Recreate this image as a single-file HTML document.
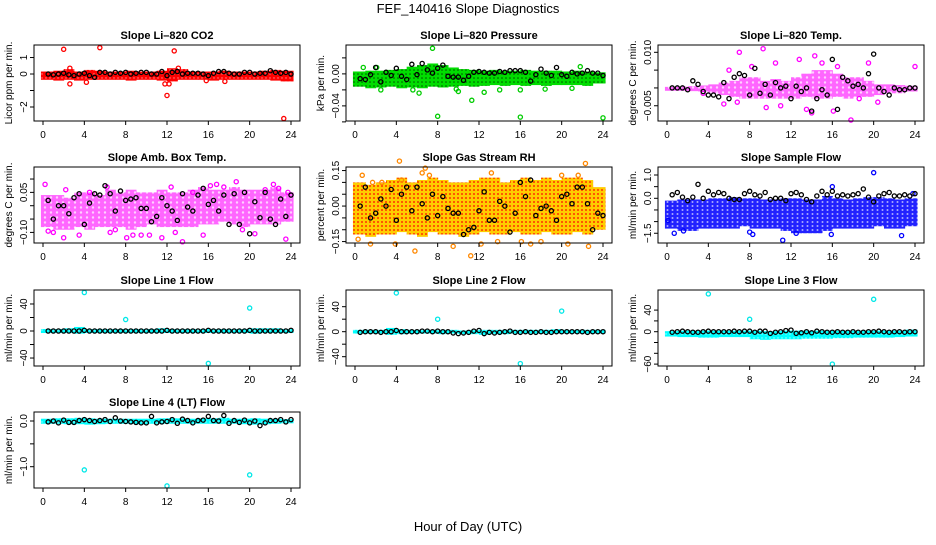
<!DOCTYPE html>
<html><head><meta charset="utf-8"><style>
body{margin:0;background:#fff;}
svg text{font-family:"Liberation Sans",Arial,sans-serif;}
</style></head><body>
<svg id="c" width="936" height="540" xmlns="http://www.w3.org/2000/svg">
<defs>
<pattern id="p-red" width="4" height="4" patternUnits="userSpaceOnUse"><rect width="4" height="4" fill="#ff0000"/><circle cx="2" cy="2" r="0.7" fill="#ff9090"/></pattern>
<pattern id="p-green" width="4" height="4" patternUnits="userSpaceOnUse"><rect width="4" height="4" fill="#00dd00"/><circle cx="2" cy="2" r="0.8" fill="#005500"/></pattern>
<pattern id="p-mag2" width="6" height="5" patternUnits="userSpaceOnUse"><rect width="6" height="5" fill="#ff66ff"/><circle cx="3" cy="2.5" r="1.2" fill="#ffd0ff"/></pattern>
<pattern id="p-orange" width="4" height="4" patternUnits="userSpaceOnUse"><rect width="4" height="4" fill="#ffcc00"/><circle cx="2" cy="2" r="1" fill="#ff3300"/></pattern>
<pattern id="p-blue" width="5" height="4" patternUnits="userSpaceOnUse"><rect width="5" height="4" fill="#2222ff"/><circle cx="2.5" cy="2" r="1" fill="#aaaaff"/></pattern>
<pattern id="p-cyan" width="4" height="4" patternUnits="userSpaceOnUse"><rect width="4" height="4" fill="#00ffff"/><circle cx="2" cy="2" r="0.7" fill="#aaffff"/></pattern>
</defs>
<text x="468" y="13" text-anchor="middle" font-size="13">FEF_140416  Slope Diagnostics</text>
<text x="468" y="531" text-anchor="middle" font-size="13">Hour of Day (UTC)</text>
</svg>
<script>
// ---------- data arrays ----------
const xTicks = [0,4,8,12,16,20,24];
const blackHours = [0.5,1,1.5,2,2.5,3,3.5,4,4.5,5,5.5,6,6.5,7,7.5,8,8.5,9,9.5,10,10.5,11,11.5,12,12.5,13,13.5,14,14.5,15,15.5,16,16.5,17,17.5,18,18.5,19,19.5,20,20.5,21,21.5,22,22.5,23,23.5,24];

// CO2
const co2Lo = [-0.35,-0.4,-0.35,-0.4,-0.35,-0.35,-0.35,-0.35,-0.4,-0.35,-0.35,-0.4,-0.45,-0.35,-0.35,-0.35,-0.4,-0.35,-0.35,-0.35,-0.35,-0.35,-0.4,-0.45];
const co2Hi = [0.15,0.2,0.3,0.15,0.25,0.2,0.15,0.15,0.2,0.15,0.15,0.2,0.35,0.3,0.15,0.15,0.15,0.2,0.15,0.15,0.15,0.2,0.25,0.2];
const co2OutX = [2.0,5.5,12.7,12.0,23.3,11.8,12.2,2.6,4.2,13.1,2.6,17.6,15.8];
const co2OutY = [1.5,1.6,1.4,-1.3,-2.7,-0.6,-0.6,-0.6,-0.5,0.35,0.35,-0.45,-0.4];
const co2Black = [0,-0.05,0,0.05,-0.05,-0.1,0,0.05,-0.1,-0.2,0.1,0.1,0,0.1,0.05,0.1,0,0.05,0.1,0.1,0,0,0.15,-0.1,0.1,0.15,0,0.05,0.05,0.05,0,-0.1,0.05,0.15,0.15,0.05,0,0,0.1,0.1,0,0.05,0.05,0.2,0.1,0.05,0.1,0];

// Pressure
const prLo = [-0.016,-0.018,-0.017,-0.016,-0.018,-0.017,-0.018,-0.016,-0.017,-0.016,-0.015,-0.016,-0.015,-0.014,-0.015,-0.014,-0.015,-0.014,-0.015,-0.014,-0.014,-0.014,-0.015,-0.012];
const prHi = [0.003,0.004,0.004,0.005,0.006,0.009,0.011,0.013,0.011,0.008,0.006,0.005,0.004,0.005,0.004,0.004,0.005,0.004,0.004,0.004,0.003,0.004,0.003,0.002];
const prOutX = [7.5,8.0,16.0,24.0,11.3,0.8,2.1,21.8,10.0,9.8,14.0,16.0,5.6,6.2,12.5,2.5,18.4,21.0];
const prOutY = [0.032,-0.053,-0.054,-0.055,-0.033,0.008,0.008,0.009,-0.022,-0.019,-0.020,-0.020,-0.020,-0.024,-0.023,-0.020,-0.019,-0.018];
const prBlack = [-0.006,-0.007,-0.001,0.008,-0.010,0.002,-0.002,0.007,-0.003,-0.007,0.012,-0.001,0.013,0.005,0.001,0.007,0.011,-0.003,-0.004,-0.004,-0.008,-0.003,0.002,0.003,0.002,0.001,0.001,0.003,0.002,0.004,0.004,0.004,0.002,-0.009,-0.001,0.006,0.001,-0.002,0.008,-0.001,-0.003,0.002,0.000,0.001,0.004,0.001,0.001,-0.002];

// Li-820 Temp
const tpLo = [-0.0008,-0.0008,-0.0009,-0.001,-0.0015,-0.002,-0.0025,-0.003,-0.003,-0.003,-0.003,-0.003,-0.003,-0.0025,-0.003,-0.003,-0.0025,-0.003,-0.0025,-0.0025,-0.002,-0.0015,-0.0015,-0.001];
const tpHi = [0.0003,0.0004,0.0005,0.0007,0.001,0.0015,0.002,0.003,0.003,0.002,0.0025,0.002,0.003,0.004,0.005,0.005,0.004,0.003,0.003,0.002,0.001,0.001,0.0008,0.0006];
const tpOutX = [7.0,9.3,17.8,14.3,19.5,24.0,15.0,6.8,11.0,13.5,5.5,10.5,8.2,16.5,20.4,12.8,14.0,6.0,18.6,3.5,9.6,16.1];
const tpOutY = [0.010,0.011,-0.009,0.009,0.007,0.006,0.007,-0.004,-0.005,-0.006,-0.0045,0.007,0.006,0.006,-0.004,0.008,-0.007,0.005,-0.003,-0.0015,-0.0055,-0.0065];
const tpBlack = [0.0,0.0,0.0,-0.0005,0.002,0.001,-0.001,-0.002,-0.002,-0.0025,0.0015,-0.003,0.003,0.004,0.0035,-0.002,0.0055,-0.0015,0.001,-0.002,0.0015,0.0,0.0005,-0.003,0.0005,-0.001,0.0,-0.0065,-0.003,-0.0005,-0.002,0.008,-0.006,0.003,0.002,0.0005,0.001,0.0,0.004,0.0095,0.0,-0.001,-0.002,0.0,-0.0005,-0.0005,0.0,0.0];

// Amb box temp
const abLo = [-0.08,-0.09,-0.09,-0.08,-0.09,-0.08,-0.08,-0.08,-0.09,-0.08,-0.07,-0.08,-0.08,-0.08,-0.08,-0.07,-0.07,-0.06,-0.07,-0.08,-0.07,-0.07,-0.07,-0.06];
const abHi = [0.04,0.04,0.03,0.05,0.05,0.04,0.06,0.05,0.06,0.05,0.05,0.06,0.05,0.05,0.06,0.07,0.06,0.06,0.07,0.06,0.06,0.06,0.07,0.05];
const abOutX = [0.2,0.5,1.0,2.0,3.5,6.2,7.0,8.1,9.5,11.5,12.8,13.5,15.5,17.5,18.7,20.5,22.3,23.5,2.2,4.5,6.5,8.7,10.3,12.4,14.5,16.8,19.3,21.5,23.7,24.0,16.2,22.8];
const abOutY = [0.08,-0.095,-0.1,-0.12,-0.11,0.07,-0.09,-0.12,-0.11,-0.12,-0.1,-0.135,-0.11,0.07,0.09,-0.105,0.08,-0.125,0.06,0.05,-0.1,-0.11,-0.11,0.07,0.05,0.08,-0.09,0.06,0.05,0.04,0.075,0.065];
const abBlack = [0.02,-0.05,0.0,0.0,-0.03,0.03,0.045,-0.07,0.01,0.045,0.04,0.075,0.045,-0.02,0.055,0.02,0.025,0.03,-0.01,-0.01,-0.06,-0.04,0.03,0.0,-0.02,-0.055,0.045,-0.005,-0.02,0.04,0.065,0.005,0.02,-0.02,0.04,-0.07,0.045,-0.07,0.05,-0.105,0.015,-0.045,0.05,-0.05,-0.07,0.025,-0.04,0.04];

// Gas stream RH
const rhLo = [-0.12,-0.13,-0.12,-0.12,-0.11,-0.12,-0.13,-0.11,-0.12,-0.12,-0.13,-0.12,-0.11,-0.12,-0.12,-0.11,-0.12,-0.12,-0.11,-0.12,-0.12,-0.11,-0.12,-0.1];
const rhHi = [0.1,0.09,0.1,0.11,0.12,0.1,0.11,0.12,0.11,0.1,0.1,0.11,0.12,0.12,0.1,0.11,0.12,0.11,0.12,0.11,0.12,0.12,0.11,0.08];
const rhOutX = [0.3,0.7,1.5,2.6,4.3,3.9,6.5,6.8,7.2,5.8,11.2,12.2,13.2,13.8,17.0,18.0,20.0,20.6,22.3,22.6,4.5,9.5,1.7,16.1,21.6];
const rhOutY = [-0.14,0.13,-0.16,0.1,0.19,-0.16,0.14,0.16,0.13,-0.19,-0.21,-0.16,0.14,-0.15,-0.16,-0.15,0.13,-0.16,0.18,-0.17,0.11,-0.17,0.1,-0.15,0.13];
const rhBlack = [0.0,0.08,-0.05,-0.03,0.03,0.0,0.07,-0.06,0.05,0.08,-0.02,0.08,0.01,-0.05,0.05,-0.04,0.04,-0.01,-0.03,-0.03,-0.12,-0.1,-0.09,-0.02,0.06,-0.06,-0.06,0.02,0.0,-0.11,-0.03,0.1,0.04,0.11,-0.04,-0.01,0.0,-0.02,-0.06,0.04,0.05,0.01,0.08,0.08,0.01,-0.1,-0.03,-0.04];

// Sample flow
const sfLo = [-1.3,-1.4,-1.4,-1.3,-1.3,-1.3,-1.3,-1.2,-1.3,-1.3,-1.3,-1.4,-1.5,-1.5,-1.5,-1.4,-1.3,-1.3,-1.3,-1.3,-1.2,-1.3,-1.3,-1.2];
const sfHi = [-0.1,-0.05,-0.05,-0.05,0.0,0.0,0.05,0.0,0.0,-0.05,-0.05,0.0,0.0,-0.05,-0.05,0.1,0.0,-0.05,0.0,0.05,0.05,0.0,-0.05,0.0];
const sfOutX = [20.0,11.2,22.7,0.7,1.6,8.0,8.3,15.9,16.0,0.1,12.5,23.8];
const sfOutY = [1.1,-1.8,-1.6,-1.5,-1.4,-1.45,-1.55,-1.55,0.5,-0.95,-1.5,0.2];
const sfBlack = [0.15,0.25,0.05,-0.1,0.05,0.6,0.0,0.3,0.15,0.25,0.2,0.0,-0.05,-0.05,0.2,0.3,0.15,0.1,0.25,-0.05,0.0,0.0,-0.1,0.2,0.25,0.15,-0.05,-0.15,0.1,0.3,0.15,0.3,0.1,0.15,0.1,0.15,0.2,0.4,0.05,-0.15,0.1,0.2,0.25,0.1,0.1,0.15,0.1,0.2];

// Line 1 flow
const l1Lo = [-3,-3,-3,-4,-3,-3,-3,-3,-3,-3,-3,-3,-3,-3,-3,-3,-3,-3,-3,-3,-4,-3,-3,-3];
const l1Hi = [3,3,4,6,3,3,3,3,3,3,3,4,3,3,3,3,3,3,3,3,4,4,4,3];
const l1OutX = [4.0,8.0,16.0,20.0];
const l1OutY = [57,17,-48,34];
const l1Black = [0,0,0,0,0,0,0,1,0,0,0,0,0,0,0,0,0,0,0,0,0,0,0,1,0,0,0,0,0,0,0,1,0,0,0,0,0,0,0,1,0,0,0,0,0,0,0,1];

// Line 2 flow
const l2Lo = [-3,-3,-3,-5,-4,-3,-3,-3,-4,-3,-4,-4,-5,-4,-4,-3,-3,-3,-3,-3,-3,-3,-3,-3];
const l2Hi = [3,3,3,6,4,3,3,3,3,3,2,3,3,3,3,3,3,3,3,4,3,3,3,3];
const l2OutX = [4.0,8.0,16.0,20.0];
const l2OutY = [62,20,-51,33];
const l2Black = [-1,0,0,0,-1,0,0,2,0,0,0,0,1,1,0,1,0,0,-2,-3,-2,-1,1,2,-3,-1,-2,-1,0,1,-1,-1,0,-1,-1,0,-1,-1,0,0,0,0,0,0,-1,0,0,0];

// Line 3 flow
const l3Lo = [-9,-10,-10,-11,-11,-10,-10,-10,-14,-15,-14,-14,-14,-13,-13,-13,-12,-12,-11,-11,-11,-11,-10,-9];
const l3Hi = [1,2,2,2,2,2,2,2,2,1,1,2,2,2,2,2,2,2,2,2,2,2,2,4];
const l3OutX = [4.0,8.0,16.0,20.0];
const l3OutY = [70,23,-60,60];
const l3Black = [-1,0,1,0,-1,-1,0,1,0,0,0,0,1,0,1,1,-1,1,1,-3,-1,0,2,3,-3,-2,0,-2,1,0,-1,-1,0,-1,-1,0,-1,-1,0,0,1,0,-1,0,0,-1,0,0];

// Line 4 (LT) flow
const l4Lo = [-0.06,-0.06,-0.07,-0.07,-0.08,-0.07,-0.06,-0.06,-0.06,-0.07,-0.06,-0.06,-0.06,-0.06,-0.06,-0.06,-0.06,-0.06,-0.06,-0.07,-0.08,-0.07,-0.06,-0.05];
const l4Hi = [0.05,0.06,0.06,0.07,0.06,0.05,0.05,0.05,0.05,0.05,0.05,0.06,0.06,0.06,0.05,0.06,0.06,0.07,0.05,0.05,0.06,0.05,0.05,0.04];
const l4OutX = [4.0,12.0,20.0];
const l4OutY = [-1.07,-1.42,-1.18];
const l4Black = [-0.02,0.0,-0.04,0.02,-0.03,-0.03,0.01,0.03,0.01,-0.01,0.01,0.03,-0.01,0.07,0.0,-0.01,-0.02,-0.03,-0.04,-0.04,0.1,-0.04,-0.02,-0.01,0.03,-0.05,0.04,0.01,-0.04,0.01,0.02,0.1,0.01,0.0,0.12,-0.05,0.01,-0.03,0.02,-0.04,0.0,-0.1,-0.04,0.01,0.01,0.03,-0.02,0.03];

// ---------- panel configuration (layout only) ----------
const panels = [
 {name:'co2',title:'Slope Li\u2013820 CO2',ylab:'Licor ppm per min.',col:0,row:0,dom:[-2.85,1.76],ticks:[1,0,-1,-2],labels:['1','0','','\u22122'],lo:co2Lo,hi:co2Hi,ox:co2OutX,oy:co2OutY,blk:co2Black,fill:'url(#p-red)',pc:'#ff0000'},
 {name:'pressure',title:'Slope Li\u2013820 Pressure',ylab:'kPa per min.',col:1,row:0,dom:[-0.0589,0.0361],ticks:[0.02,0,-0.02,-0.04,-0.06],labels:['','0.00','','\u22120.04',''],lo:prLo,hi:prHi,ox:prOutX,oy:prOutY,blk:prBlack,fill:'url(#p-green)',pc:'#00cc00'},
 {name:'temp',title:'Slope Li\u2013820 Temp.',ylab:'degrees C per min.',col:2,row:0,dom:[-0.00928,0.01205],ticks:[0.01,0.005,0,-0.005],labels:['0.010','','','\u22120.005'],lo:tpLo,hi:tpHi,ox:tpOutX,oy:tpOutY,blk:tpBlack,fill:'url(#p-mag2)',pc:'#ff00ff'},
 {name:'amb-box-temp',title:'Slope Amb. Box Temp.',ylab:'degrees C per min.',col:0,row:1,dom:[-0.1397,0.1451],ticks:[0.1,0.05,0,-0.05,-0.1],labels:['','0.05','','','\u22120.10'],lo:abLo,hi:abHi,ox:abOutX,oy:abOutY,blk:abBlack,fill:'url(#p-mag2)',pc:'#ff00ff'},
 {name:'gas-rh',title:'Slope Gas Stream RH',ylab:'percent per min.',col:1,row:1,dom:[-0.156,0.165],ticks:[0.15,0.1,0.05,0,-0.05,-0.1,-0.15],labels:['0.15','','','0.00','','','\u22120.15'],lo:rhLo,hi:rhHi,ox:rhOutX,oy:rhOutY,blk:rhBlack,fill:'url(#p-orange)',pc:'#ff8800'},
 {name:'sample-flow',title:'Slope Sample Flow',ylab:'ml/min per min.',col:2,row:1,dom:[-1.918,1.343],ticks:[1,0.5,0,-0.5,-1,-1.5],labels:['1.0','','0.0','','','\u22121.5'],lo:sfLo,hi:sfHi,ox:sfOutX,oy:sfOutY,blk:sfBlack,fill:'url(#p-blue)',pc:'#0000ff'},
 {name:'line1-flow',title:'Slope Line 1 Flow',ylab:'ml/min per min.',col:0,row:2,dom:[-51.8,60.7],ticks:[40,20,0,-20,-40],labels:['40','','0','','\u221240'],lo:l1Lo,hi:l1Hi,ox:l1OutX,oy:l1OutY,blk:l1Black,fill:'url(#p-cyan)',pc:'#00e8e8'},
 {name:'line2-flow',title:'Slope Line 2 Flow',ylab:'ml/min per min.',col:1,row:2,dom:[-54.9,66.7],ticks:[40,20,0,-20,-40],labels:['40','','0','','\u221240'],lo:l2Lo,hi:l2Hi,ox:l2OutX,oy:l2OutY,blk:l2Black,fill:'url(#p-cyan)',pc:'#00e8e8'},
 {name:'line3-flow',title:'Slope Line 3 Flow',ylab:'ml/min per min.',col:2,row:2,dom:[-63.5,77.2],ticks:[40,20,0,-20,-40,-60],labels:['40','','0','','','\u221260'],lo:l3Lo,hi:l3Hi,ox:l3OutX,oy:l3OutY,blk:l3Black,fill:'url(#p-cyan)',pc:'#00e8e8'},
 {name:'line4-flow',title:'Slope Line 4 (LT) Flow',ylab:'ml/min per min.',col:0,row:3,dom:[-1.466,0.197],ticks:[0,-0.5,-1],labels:['0.0','','\u22121.0'],lo:l4Lo,hi:l4Hi,ox:l4OutX,oy:l4OutY,blk:l4Black,fill:'url(#p-cyan)',pc:'#00e8e8'}
];

const NS='http://www.w3.org/2000/svg';
const svg=document.getElementById('c');
function mk(tag,attrs,parent){const e=document.createElementNS(NS,tag);for(const k in attrs)e.setAttribute(k,attrs[k]);(parent||svg).appendChild(e);return e;}
const rowTops=[45,167,290,412];
const BW=266,BH=76;

panels.forEach(p=>{
  const bx=34+p.col*312, by=rowTops[p.row];
  const g=mk('g',{});
  
  
  const xs=h=>bx+9+h*248/24;
  const ys=v=>by+BH-(v-p.dom[0])/(p.dom[1]-p.dom[0])*BH;
  const band=mk('g',{},g);
  
  
  p.lo.forEach((lo,i)=>{
    const x1=xs(i===0?-0.2:i), x2=xs(i===p.lo.length-1?24.2:i+1);
    const r=mk('rect',{x:x1,y:ys(p.hi[i]),width:x2-x1+0.5,height:ys(lo)-ys(p.hi[i]),fill:p.fill},band);
    
    
  });
  p.ox.forEach((x,i)=>{
    const c=mk('circle',{cx:xs(x),cy:ys(p.oy[i]),r:2.1,fill:'none',stroke:p.pc,'stroke-width':1.3},g);
    
    
  });
  p.blk.forEach((v,i)=>{
    const c=mk('circle',{cx:xs(blackHours[i]),cy:ys(v),r:2.1,fill:'none',stroke:'#000','stroke-width':1.3},g);
    
    
  });
  const b=mk('rect',{x:bx,y:by,width:BW,height:BH,fill:'none',stroke:'#000','stroke-width':1},g);
  
  
  const t=mk('text',{x:bx+BW/2,y:by-6,'text-anchor':'middle','font-size':11,'font-weight':'bold'},g);
  t.textContent=p.title;
  
  
  xTicks.forEach(h=>{
    mk('line',{x1:xs(h),x2:xs(h),y1:by+BH,y2:by+BH+4,stroke:'#000'},g);
    const l=mk('text',{x:xs(h),y:by+BH+17,'text-anchor':'middle','font-size':10},g);
    l.textContent=h;
    
    
  });
  p.ticks.forEach((v,i)=>{
    mk('line',{x1:bx,x2:bx-4,y1:ys(v),y2:ys(v),stroke:'#000'},g);
    if(p.labels[i]){
      const l=mk('text',{x:0,y:0,'text-anchor':'middle','font-size':10,transform:`translate(${bx-7},${ys(v)}) rotate(-90)`},g);
      l.textContent=p.labels[i];
      
      
    }
  });
  const yl=mk('text',{x:0,y:0,'text-anchor':'middle','font-size':10,transform:`translate(${bx-22},${by+BH/2}) rotate(-90)`},g);
  yl.textContent=p.ylab;
  
  
});
</script>
</body></html>
